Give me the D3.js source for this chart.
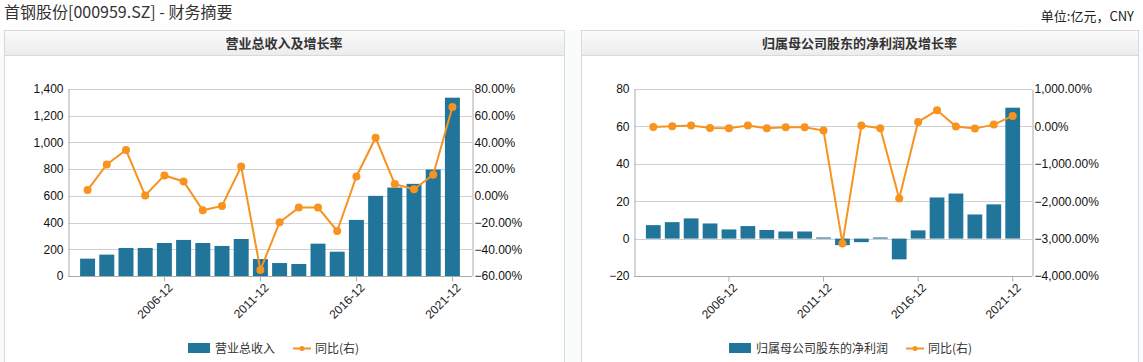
<!DOCTYPE html>
<meta charset="utf-8">
<head>
    <script src="https://d3js.org/d3.v7.min.js"></script>
    <style>
      body { margin: 0; background: #fafbfc; }
      svg { display: block; }
    </style>
</head>
<html lang="zh">
    <body>
        <div id="dataviz"></div>
    </body>
</html>
<script>

    // data
    const years = d3.range(2002, 2022).map(y => y + "-12")
    const tickYears = ["2006-12", "2011-12", "2016-12", "2021-12"]

    const revenue = [130, 160, 210, 210, 247, 270, 247, 225, 277, 127,
                     97, 90, 242, 182, 420, 600, 662, 690, 797, 1335]
    const revenueGrowth = [4.3, 23.5, 34.3, 0.3, 15.3, 10.8, -10.8, -7.5, 22, -55.5,
                           -19.8, -8.8, -8.8, -26.3, 14.5, 43.5, 8.8, 5, 15.8, 66.5]

    const profit = [7.2, 8.8, 10.8, 8.1, 4.9, 6.7, 4.6, 3.8, 3.8, 0.6,
                    -3.5, -1.9, 0.6, -11.1, 4.4, 22.0, 24.1, 12.9, 18.3, 70.0]
    const profitGrowth = [-14, 4, 21, -41, -50, 21, -50, -23, -23, -112,
                          -3128, 21, -50, -1927, 119, 430, -5, -59, 48, 279]

    const leftTicks = [0, 200, 400, 600, 800, 1000, 1200, 1400]
    const leftPct = [-60, -40, -20, 0, 20, 40, 60, 80]
    const rightTicks = [-20, 0, 20, 40, 60, 80]
    const rightPct = [-4000, -3000, -2000, -1000, 0, 1000]

    const W = 1143, H = 362
    const barColor = "#21759b", lineColor = "#f7931e"
    const numFont = "'Liberation Sans', Arial, sans-serif"
    const cjkFont = "'Noto Sans CJK SC', sans-serif"

    const svg = d3.select("#dataviz").append("svg")
      .attr("width", W).attr("height", H)

    svg.append("rect").attr("width", W).attr("height", 30).attr("fill", "#fff")

    svg.append("text")
      .attr("x", 4).attr("y", 18)
      .style("font-family", cjkFont).style("font-size", "16px")
      .attr("fill", "#333")
      .text("首钢股份[000959.SZ] - 财务摘要")

    svg.append("text")
      .attr("x", 1134).attr("y", 21)
      .attr("text-anchor", "end")
      .style("font-family", cjkFont).style("font-size", "13px")
      .attr("fill", "#222")
      .text("单位:亿元，CNY")

    const grad = svg.append("defs").append("linearGradient")
      .attr("id", "hdr").attr("x1", 0).attr("y1", 0).attr("x2", 0).attr("y2", 1)
    grad.append("stop").attr("offset", "0%").attr("stop-color", "#fbfbfb")
    grad.append("stop").attr("offset", "100%").attr("stop-color", "#ececec")

    function panel(cfg) {
      const g = svg.append("g")
      g.append("rect")
        .attr("x", cfg.px + 0.5).attr("y", 30.5)
        .attr("width", cfg.pw).attr("height", H)
        .attr("fill", "#fff").attr("stroke", "#d9d9d9")
      g.append("rect")
        .attr("x", cfg.px + 0.5).attr("y", 30.5)
        .attr("width", cfg.pw).attr("height", 25)
        .attr("fill", "url(#hdr)").attr("stroke", "#d9d9d9")
      g.append("text")
        .attr("x", cfg.px + cfg.pw / 2).attr("y", 48)
        .attr("text-anchor", "middle")
        .style("font-family", cjkFont).style("font-size", "13px")
        .style("font-weight", "bold").attr("fill", "#333")
        .text(cfg.title)

      const x = d3.scaleBand()
        .domain(years)
        .range([cfg.x0, cfg.x1])
        .paddingInner(0.22).paddingOuter(0.63)
      const y = d3.scaleLinear().domain(cfg.yDomain).range([276, 89])
      const y2 = d3.scaleLinear().domain(cfg.y2Domain).range([276, 89])

      // grid
      g.selectAll(null).data(cfg.yTicks).join("line")
        .attr("x1", cfg.x0).attr("x2", cfg.x1)
        .attr("y1", d => Math.round(y(d)) + 0.5).attr("y2", d => Math.round(y(d)) + 0.5)
        .attr("stroke", "#d0d0d0")

      // left axis
      const la = g.append("g").attr("transform", `translate(${cfg.x0 + 0.5},0)`)
        .call(d3.axisLeft(y).tickValues(cfg.yTicks).tickSize(0).tickPadding(5)
          .tickFormat(d3.format(",")))
      la.select(".domain").attr("stroke", "#aaa")
      la.selectAll("text").style("font-family", numFont).style("font-size", "12px").attr("fill", "#111")

      // right axis
      const ra = g.append("g").attr("transform", `translate(${cfg.x1 + 0.5},0)`)
        .call(d3.axisRight(y2).tickValues(cfg.y2Ticks).tickSize(0).tickPadding(2)
          .tickFormat(d => d3.format(",.2f")(d) + "%"))
      ra.select(".domain").attr("stroke", "#aaa")
      ra.selectAll("text").style("font-family", numFont).style("font-size", "12px").attr("fill", "#111")

      // bars
      g.selectAll(null).data(cfg.bars).join("rect")
        .attr("x", (d, i) => x(years[i]))
        .attr("width", x.bandwidth())
        .attr("y", d => y(Math.max(0, d)))
        .attr("height", d => Math.abs(y(d) - y(0)))
        .attr("fill", barColor)

      // bottom axis
      const ba = g.append("g").attr("transform", `translate(0,${276.5})`)
        .call(d3.axisBottom(x).tickValues(tickYears).tickSize(5).tickSizeOuter(0))
      ba.select(".domain").attr("stroke", "#aaa")
        .attr("d", `M${cfg.x0},0H${cfg.x1}`)
      ba.selectAll(".tick line").attr("stroke", "#aaa")
      ba.selectAll("text")
        .style("font-family", numFont).style("font-size", "12px").attr("fill", "#222")
        .attr("text-anchor", "end")
        .attr("transform", "translate(6,9) rotate(-45)")
        .attr("dy", "0.35em").attr("y", 0)

      // line
      const cx = (d, i) => x(years[i]) + x.bandwidth() / 2
      g.append("path")
        .datum(cfg.line)
        .attr("d", d3.line().x(cx).y(d => y2(d)))
        .attr("fill", "none").attr("stroke", lineColor).attr("stroke-width", 2)
      g.selectAll(null).data(cfg.line).join("circle")
        .attr("cx", cx).attr("cy", d => y2(d)).attr("r", 4)
        .attr("fill", lineColor)

      // legend
      const lg = g.append("g").style("font-family", cjkFont).style("font-size", "12px")
      lg.append("rect").attr("x", cfg.lx).attr("y", 343).attr("width", 22).attr("height", 10).attr("fill", barColor)
      const t1 = lg.append("text").attr("x", cfg.lx + 27).attr("y", 353).attr("fill", "#333").text(cfg.barName)
      const lx2 = cfg.lx + 27 + t1.node().getComputedTextLength() + 18
      lg.append("line").attr("x1", lx2).attr("x2", lx2 + 18).attr("y1", 348.5).attr("y2", 348.5)
        .attr("stroke", lineColor).attr("stroke-width", 2)
      lg.append("circle").attr("cx", lx2 + 9).attr("cy", 348.5).attr("r", 2.5).attr("fill", lineColor)
      lg.append("text").attr("x", lx2 + 22).attr("y", 353).attr("fill", "#333").text("同比(右)")
    }

    panel({
      px: 4, pw: 560, title: "营业总收入及增长率",
      x0: 68, x1: 472,
      yDomain: [0, 1400], yTicks: leftTicks,
      y2Domain: [-60, 80], y2Ticks: leftPct,
      bars: revenue, line: revenueGrowth,
      lx: 188, barName: "营业总收入"
    })

    panel({
      px: 581, pw: 557, title: "归属母公司股东的净利润及增长率",
      x0: 634, x1: 1032,
      yDomain: [-20, 80], yTicks: rightTicks,
      y2Domain: [-4000, 1000], y2Ticks: rightPct,
      bars: profit, line: profitGrowth,
      lx: 729, barName: "归属母公司股东的净利润"
    })
</script>
